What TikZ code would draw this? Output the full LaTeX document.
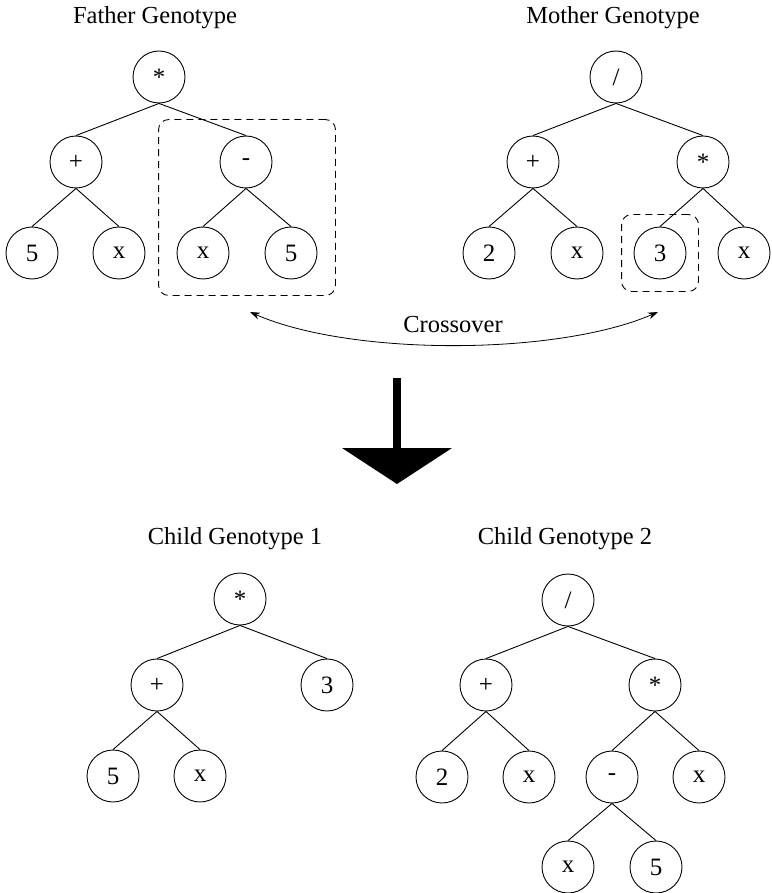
\documentclass[tikz,border=0pt]{standalone}
\usepackage{fontspec}
\setmainfont{Liberation Serif}
\usetikzlibrary{arrows.meta,positioning,fit,calc}
\newcommand{\genefont}{\fontsize{25}{29}\selectfont}
\newcommand{\titlefont}{\fontsize{24.5}{29}\selectfont}

\begin{document}
\begin{tikzpicture}[x=1pt, y=-1pt,
    gene/.style={circle, draw, line width=0.9pt, minimum size=52pt, inner sep=0pt, font=\genefont},
    title/.style={font=\titlefont},
    link/.style={line width=0.9pt},
    cut/.style={draw, rounded corners=10pt, line width=0.9pt, dash pattern=on 7pt off 5pt},
    swap/.style={{Stealth[length=10pt,width=7pt]}-{Stealth[length=10pt,width=7pt]}, line width=0.8pt}
  ]
    \useasboundingbox (0,0) rectangle (771,893);

    \node[title] (ftitle) at (155,18) {Father Genotype};
    \node[gene] (fmul) at (159,77) {*};
    \node[gene] (fplus) at (76,162) {+};
    \node[gene] (fminus) at (246,162) {-};
    \node[gene] (ffive) at (32,253) {5};
    \node[gene] (fx) at (119,253) {x};
    \node[gene] (fxx) at (203,253) {x};
    \node[gene] (ffivee) at (291,253) {5};

    \node[title] (mtitle) at (613,18) {Mother Genotype};
    \node[gene] (mdiv) at (616,77) {/};
    \node[gene] (mplus) at (533,162) {+};
    \node[gene] (mmul) at (703,162) {*};
    \node[gene] (mtwo) at (489,253) {2};
    \node[gene] (mx) at (577,253) {x};
    \node[gene] (mthree) at (660,253) {3};
    \node[gene] (mxx) at (744,253) {x};

    \draw[link] (fmul.south) -- (fplus.north);
    \draw[link] (fmul.south) -- (fminus.north);
    \draw[link] (fplus.south) -- (ffive.north);
    \draw[link] (fplus.south) -- (fx.north);
    \draw[link] (fminus.south) -- (fxx.north);
    \draw[link] (fminus.south) -- (ffivee.north);

    \draw[link] (mdiv.south) -- (mplus.north);
    \draw[link] (mdiv.south) -- (mmul.north);
    \draw[link] (mplus.south) -- (mtwo.north);
    \draw[link] (mplus.south) -- (mx.north);
    \draw[link] (mmul.south) -- (mthree.north);
    \draw[link] (mmul.south) -- (mxx.north);

    \node[cut, fit=(fminus)(fxx)(ffivee), inner xsep=18pt, inner ysep=16pt] (fbox) {};
    \node[cut, fit=(mthree), inner sep=12pt] (mbox) {};

    \coordinate (xleft) at (250,312);
    \coordinate (xright) at (658,312);
    \draw[swap] (xleft) .. controls (350,356) and (556,356) .. (xright);
    \node[title] (xlabel) at (453,325) {Crossover};

    \fill (393,378) rectangle (401,450);
    \fill (342,448) -- (452,448) -- (397,484) -- cycle;

    \node[title] (atitle) at (235,539) {Child Genotype 1};
    \node[gene] (amul) at (240,599) {*};
    \node[gene] (aplus) at (157,685) {+};
    \node[gene] (athree) at (327,685) {3};
    \node[gene] (afive) at (113,776) {5};
    \node[gene] (ax) at (200,776) {x};

    \draw[link] (amul.south) -- (aplus.north);
    \draw[link] (amul.south) -- (athree.north);
    \draw[link] (aplus.south) -- (afive.north);
    \draw[link] (aplus.south) -- (ax.north);

    \node[title] (btitle) at (565,539) {Child Genotype 2};
    \node[gene] (bdiv) at (568,600) {/};
    \node[gene] (bplus) at (486,685) {+};
    \node[gene] (bmul) at (655,685) {*};
    \node[gene] (btwo) at (442,777) {2};
    \node[gene] (bx) at (529,777) {x};
    \node[gene] (bminus) at (612,777) {-};
    \node[gene] (bxx) at (699,777) {x};
    \node[gene] (bxxx) at (568,867) {x};
    \node[gene] (bfive) at (656,867) {5};

    \draw[link] (bdiv.south) -- (bplus.north);
    \draw[link] (bdiv.south) -- (bmul.north);
    \draw[link] (bplus.south) -- (btwo.north);
    \draw[link] (bplus.south) -- (bx.north);
    \draw[link] (bmul.south) -- (bminus.north);
    \draw[link] (bmul.south) -- (bxx.north);
    \draw[link] (bminus.south) -- (bxxx.north);
    \draw[link] (bminus.south) -- (bfive.north);
\end{tikzpicture}
\end{document}
